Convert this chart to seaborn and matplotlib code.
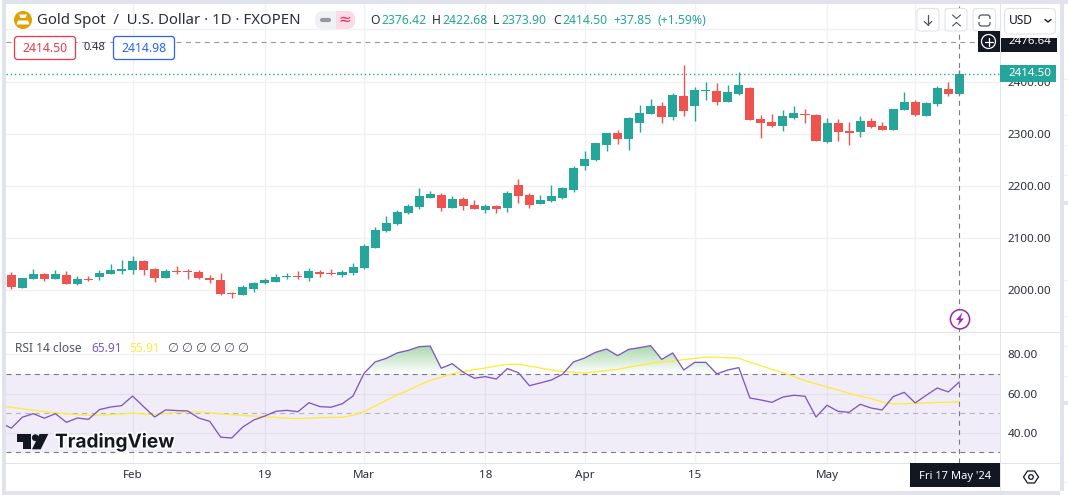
import matplotlib
matplotlib.use("Agg")
import matplotlib.pyplot as plt
import matplotlib.patheffects as pe
from matplotlib.colors import LinearSegmentedColormap
from matplotlib.patches import Circle, FancyBboxPatch, Polygon, Rectangle
from matplotlib.path import Path
import numpy as np
import pandas as pd
import seaborn as sns

# ----------------------------------------------------------------
# Data
# ----------------------------------------------------------------
opens = [2028.7, 2003.7, 2021.0, 2030.6, 2021.0, 2028.7, 2011.0, 2021.0, 2024.9, 2030.6,
         2036.0, 2038.0, 2055.6, 2040.0, 2023.0, 2036.0, 2036.0, 2034.0, 2023.0, 2019.0,
         1994.0, 1990.0, 2001.8, 2013.0, 2015.0, 2024.9, 2026.8, 2023.0, 2034.0, 2032.5,
         2028.7, 2032.5, 2042.8, 2081.2, 2113.8, 2126.5, 2147.6, 2159.2, 2176.4, 2182.2,
         2157.2, 2174.5, 2163.0, 2153.4, 2161.0, 2157.2, 2201.4, 2182.2, 2164.9, 2170.7,
         2176.4, 2191.8, 2237.9, 2249.4, 2278.2, 2301.2, 2289.7, 2320.4, 2337.7, 2353.0,
         2332.0, 2372.2, 2353.0, 2382.4, 2381.8, 2360.7, 2376.0, 2387.5, 2328.0, 2322.0,
         2314.6, 2330.0, 2337.6, 2335.7, 2283.9, 2320.3, 2305.0, 2303.0, 2324.0, 2314.6,
         2306.9, 2345.3, 2360.7, 2333.8, 2356.8, 2385.6, 2376.42]
highs = [2034.0, 2023.0, 2040.0, 2032.5, 2038.0, 2036.0, 2026.8, 2026.8, 2038.0, 2049.8,
         2057.5, 2065.2, 2057.5, 2042.0, 2040.0, 2046.0, 2040.0, 2038.0, 2028.7, 2032.5,
         1996.0, 2009.0, 2015.0, 2023.0, 2030.6, 2032.5, 2036.0, 2042.0, 2038.0, 2040.0,
         2038.0, 2051.7, 2088.3, 2120.9, 2142.0, 2153.4, 2164.9, 2195.6, 2189.9, 2186.0,
         2180.3, 2178.4, 2172.6, 2164.9, 2163.0, 2189.9, 2213.0, 2186.0, 2182.2, 2201.4,
         2197.6, 2237.9, 2266.7, 2282.0, 2301.2, 2307.0, 2332.0, 2355.0, 2366.5, 2360.8,
         2378.0, 2431.7, 2389.5, 2399.0, 2397.0, 2393.3, 2418.3, 2389.5, 2335.7, 2337.6,
         2345.3, 2353.0, 2347.0, 2337.6, 2330.0, 2328.0, 2322.0, 2333.8, 2330.0, 2322.0,
         2347.0, 2379.9, 2364.5, 2360.7, 2391.4, 2399.0, 2422.68]
lows = [2001.8, 2003.7, 2021.0, 2017.0, 2021.0, 2011.0, 2009.0, 2017.0, 2019.0, 2030.6,
        2030.6, 2030.6, 2028.7, 2015.0, 2023.0, 2030.6, 2021.0, 2021.0, 2013.0, 1990.0,
        1984.5, 1990.0, 1996.0, 2011.0, 2015.0, 2021.0, 2021.0, 2017.0, 2024.9, 2028.7,
        2024.9, 2028.7, 2040.0, 2081.2, 2111.9, 2124.6, 2145.7, 2155.3, 2176.4, 2151.5,
        2157.2, 2153.4, 2155.3, 2147.6, 2147.6, 2149.6, 2166.8, 2157.2, 2164.9, 2168.8,
        2174.5, 2188.0, 2230.2, 2247.5, 2266.7, 2280.0, 2268.6, 2303.2, 2337.7, 2320.4,
        2326.2, 2333.8, 2324.0, 2364.5, 2354.9, 2360.7, 2374.0, 2326.0, 2291.5, 2312.7,
        2305.0, 2328.0, 2320.3, 2285.8, 2282.0, 2285.8, 2278.1, 2293.5, 2310.7, 2306.9,
        2306.9, 2345.3, 2333.8, 2333.8, 2353.0, 2372.2, 2373.9]
closes = [2005.7, 2023.0, 2030.6, 2021.0, 2030.6, 2011.0, 2021.0, 2019.0, 2032.5, 2038.0,
          2040.0, 2055.6, 2038.0, 2023.0, 2036.0, 2034.0, 2034.0, 2023.0, 2019.0, 1992.0,
          1992.0, 2005.7, 2013.0, 2019.0, 2024.9, 2026.8, 2024.9, 2036.0, 2030.6, 2030.6,
          2034.0, 2044.0, 2084.4, 2115.1, 2128.6, 2149.6, 2161.0, 2180.3, 2184.0, 2157.2,
          2174.5, 2161.0, 2155.3, 2161.0, 2155.3, 2186.0, 2180.3, 2163.0, 2172.6, 2180.3,
          2195.6, 2234.0, 2251.3, 2282.0, 2301.2, 2289.7, 2330.0, 2339.6, 2353.0, 2332.0,
          2374.2, 2343.4, 2383.7, 2383.7, 2360.7, 2379.9, 2393.3, 2326.0, 2320.3, 2314.6,
          2333.8, 2339.5, 2336.3, 2285.8, 2320.3, 2303.0, 2301.1, 2324.0, 2312.7, 2306.9,
          2347.0, 2360.7, 2335.7, 2358.7, 2387.5, 2376.0, 2414.5]

# RSI and its moving average start one session before the first candle
rsi_values = [45.1, 42.3, 47.9, 49.7, 47.4, 49.7, 45.3, 47.5, 46.8, 51.8, 53.1, 53.8,
              58.7, 53.3, 48.0, 51.6, 51.3, 51.1, 47.5, 45.8, 37.7, 37.3, 42.9, 46.5,
              48.5, 50.9, 51.4, 50.7, 55.3, 53.3, 53.0, 54.7, 58.7, 70.3, 76.1, 77.9,
              80.7, 82.0, 83.9, 84.2, 72.9, 75.2, 70.8, 67.8, 68.6, 67.4, 72.7, 70.6,
              64.0, 65.4, 66.9, 69.8, 76.1, 78.1, 81.0, 82.7, 79.3, 82.5, 83.4, 84.4,
              77.4, 80.7, 72.0, 75.9, 75.9, 70.0, 72.0, 73.2, 57.7, 56.7, 55.5, 58.2,
              59.1, 58.6, 48.0, 54.0, 50.9, 50.4, 54.5, 52.6, 51.6, 58.4, 60.6, 55.2,
              59.1, 62.8, 60.8, 65.91]
rsi_ma = [53.5, 53.0, 52.2, 51.5, 50.8, 50.2, 49.7, 49.2, 48.9, 48.9, 49.2, 49.6,
          49.9, 49.6, 49.2, 49.8, 50.4, 50.6, 50.6, 50.2, 49.6, 49.2, 48.8, 48.5,
          48.2, 47.8, 47.4, 47.2, 47.4, 47.7, 47.8, 47.9, 48.9, 50.7, 53.6, 56.5,
          59.2, 61.6, 64.3, 66.7, 68.3, 70.0, 71.2, 72.2, 73.0, 74.0, 74.9, 74.9,
          74.0, 73.0, 72.0, 71.2, 70.8, 70.5, 71.0, 71.7, 72.3, 73.4, 74.4, 75.4,
          76.1, 76.4, 77.3, 77.9, 78.6, 78.5, 78.3, 78.0, 75.9, 74.2, 72.3, 70.6,
          68.6, 66.6, 64.9, 63.3, 61.8, 60.1, 58.6, 57.4, 55.7, 54.7, 54.8, 55.0,
          55.2, 55.5, 55.5, 55.91]

time_ticks = [11, 23, 32, 43, 52, 62, 74, 82]
time_labels = ["Feb", "19", "Mar", "18", "Apr", "15", "May", ""]
price_ticks = [2000, 2100, 2200, 2300, 2400, 2500]
rsi_ticks = [40, 60, 80]
cross_price = 2476.64

# ----------------------------------------------------------------
# Colours and layout
# ----------------------------------------------------------------
GREEN = "#26a69a"
RED = "#ef5350"
PURPLE = "#7e57c2"
YELLOW = "#ffeb3b"
FRAME = "#e0e3eb"
GRID = "#f0f1f4"
INK = "#131722"
SOFT = "#50535e"
DASH = (0, (4.5, 4))

W, H = 1068, 495


def pane(x0, y0, x1, y1):
    return [x0 / W, 1 - y1 / H, (x1 - x0) / W, (y1 - y0) / H]


sns.set_theme(style="white")
plt.rcParams["font.family"] = ["Noto Sans", "DejaVu Sans"]

fig = plt.figure(figsize=(W / 100, H / 100), dpi=100, facecolor="white")
ax = fig.add_axes(pane(6, 4, 1000, 332))
ax_rsi = fig.add_axes(pane(6, 332, 1000, 463))
ov = fig.add_axes([0, 0, 1, 1], zorder=10)
ov.set_xlim(0, W)
ov.set_ylim(H, 0)
ov.axis("off")
ov.patch.set_alpha(0)

xlim = (-0.481, 89.69)

# --- Price pane ---
days = np.arange(len(closes))
candles = pd.DataFrame({"day": days, "open": opens, "high": highs, "low": lows, "close": closes})
candles["color"] = np.where(candles["close"] >= candles["open"], GREEN, RED)

ax.vlines(candles["day"], candles["low"], candles["high"], colors=candles["color"], lw=1.0, zorder=3)
ax.bar(candles["day"], (candles["close"] - candles["open"]).abs(),
       bottom=candles[["open", "close"]].min(axis=1), width=0.82,
       color=candles["color"], linewidth=0, zorder=4)
ax.axhline(closes[-1], color=GREEN, lw=1.0, ls=(0, (1, 2)), zorder=2)
ax.axhline(cross_price, color="#9598a1", lw=0.8, ls=DASH, zorder=5)
ax.axvline(days[-1], color="#787b86", lw=0.8, ls=DASH, zorder=5)
ax.set_xlim(*xlim)
ax.set_ylim(1919.4, 2548.9)
ax.set_yticks(price_ticks, [f"{t:.2f}" if t < 2500 else "" for t in price_ticks])
ax.set_xticks(time_ticks, [""] * len(time_ticks))

# --- RSI pane ---
rsi_x = np.arange(-1, len(closes))
rsi_df = pd.DataFrame({"day": rsi_x, "rsi": rsi_values, "ma": rsi_ma})

ax_rsi.axhspan(30, 70, color=PURPLE, alpha=0.1, lw=0, zorder=1)
fill = ax_rsi.fill_between(rsi_df["day"], rsi_df["rsi"], 70, where=rsi_df["rsi"] >= 70,
                           interpolate=True, facecolor="none", edgecolor="none")
fade = LinearSegmentedColormap.from_list("fade", ["#ffffff", "#a5d6a7"])
grad = ax_rsi.imshow(np.linspace(0, 1, 64)[::-1, None], extent=[xlim[0], xlim[1], 70, 85],
                     aspect="auto", cmap=fade, zorder=1.5)
grad.set_clip_path(Path.make_compound_path(*fill.get_paths()), ax_rsi.transData)

ax_rsi.axhline(70, color="#787b86", lw=0.8, ls=DASH, zorder=2)
ax_rsi.axhline(50, color="#787b86", lw=0.8, ls=DASH, alpha=0.5, zorder=2)
ax_rsi.axhline(30, color="#787b86", lw=0.8, ls=DASH, zorder=2)
sns.lineplot(data=rsi_df, x="day", y="ma", ax=ax_rsi, color=YELLOW, lw=0.95, zorder=3)
sns.lineplot(data=rsi_df, x="day", y="rsi", ax=ax_rsi, color=PURPLE, lw=0.95, zorder=4)
ax_rsi.axvline(days[-1], color="#787b86", lw=0.8, ls=DASH, zorder=5)
ax_rsi.set(xlabel="", ylabel="")
ax_rsi.set_xlim(*xlim)
ax_rsi.set_ylim(24.54, 91.38)
ax_rsi.set_yticks(rsi_ticks, [f"{t:.2f}" for t in rsi_ticks])
ax_rsi.set_xticks(time_ticks, time_labels)

for a in (ax, ax_rsi):
    a.set_facecolor("white")
    a.yaxis.tick_right()
    a.grid(True, color=GRID, lw=1.0, zorder=0)
    a.set_axisbelow(True)
    a.tick_params(axis="y", length=0, pad=5.6, labelsize=8.4, labelcolor="#2a2e39")
    a.tick_params(axis="x", length=0, pad=5.2, labelsize=8.4, labelcolor="#2a2e39")
    for s in a.spines.values():
        s.set_visible(False)

# ----------------------------------------------------------------
# Chart furniture, in pixel coordinates on the overlay
# ----------------------------------------------------------------
def rect(x0, y0, x1, y1, color, z=1):
    ov.add_patch(Rectangle((x0, y0), x1 - x0, y1 - y0, fc=color, ec="none", zorder=z))


def rbox(x0, y0, x1, y1, fc="white", ec=FRAME, r=4, lw=0.9, z=2):
    ov.add_patch(FancyBboxPatch((x0 + r, y0 + r), x1 - x0 - 2 * r, y1 - y0 - 2 * r,
                                boxstyle=f"round,pad={r},rounding_size={r}",
                                fc=fc, ec=ec, lw=lw, zorder=z))


def label(x, y, s, color=INK, size=8.8, ha="left", z=5, **kw):
    return ov.text(x, y, s, color=color, fontsize=size, ha=ha, va="center", zorder=z, **kw)


def stroke(xs, ys, color, lw=1.0, z=5):
    ov.plot(xs, ys, color=color, lw=lw, zorder=z, solid_capstyle="round")


# page frame
rect(2, 0, 6, H, FRAME)
rect(2, 0, W, 4, FRAME)
rect(6, 491, 1060, H, FRAME)
rect(1060, 4, 1064, 491, FRAME)
rect(1064, 201, W, 205, FRAME)
rect(1064, 401, W, 405, FRAME)
for yy in [79, 115, 145, 175, 280, 316, 346, 376, 482]:
    rect(1064, yy, W, yy + 1, GRID)

# pane separators
rect(6, 331.5, 1060, 332.5, FRAME)
rect(6, 462.5, 1060, 463.5, FRAME)
rect(1000, 4, 1001, 491, FRAME)

# crosshair tail under the RSI pane
ov.plot([959.4, 959.4], [463, 477], color="#787b86", lw=0.8, ls=DASH, zorder=2)

# symbol header
ov.add_patch(Circle((23, 20), 9, fc="#e0a100", ec="none", zorder=3))
ov.add_patch(Polygon([(20.5, 18), (25.5, 18), (27, 14.5), (19, 14.5)], fc="white", ec="none", zorder=4))
ov.add_patch(Polygon([(16.5, 24.5), (29.5, 24.5), (28, 20.5), (18, 20.5)], fc="white", ec="none", zorder=4))
label(37, 20, "Gold Spot  /  U.S. Dollar · 1D · FXOPEN", color="#2a2e39", size=10.75)

rbox(315, 11, 355, 29, fc=GRID, ec="none", r=8)
rbox(336, 11, 355, 29, fc="#fcdbe4", ec="none", r=8, z=3)
rect(335.5, 11, 346, 29, "#fcdbe4", z=3)
stroke([322, 329], [20, 20], "#9598a1", lw=3)
label(344.5, 20, "≈", color="#e91e63", size=11, ha="center")

label(370.5, 20.5, "O", color="#2a2e39")
label(381, 20.5, "2376.42", color=GREEN)
label(432, 20.5, "H", color="#2a2e39")
label(442, 20.5, "2422.68", color=GREEN)
label(493, 20.5, "L", color="#2a2e39")
label(501, 20.5, "2373.90", color=GREEN)
label(553, 20.5, "C", color="#2a2e39")
label(562, 20.5, "2414.50", color=GREEN)
label(613, 20.5, "+37.85", color=GREEN)
label(657, 20.5, "(+1.59%)", color=GREEN)

# bid / ask boxes
rbox(14.5, 36.5, 75.5, 59.5, fc="white", ec="#f23645", r=3, lw=0.9, z=6)
label(45, 48.5, "2414.50", color="#f23645", ha="center", z=7)
label(94.5, 48, "0.48", color="#2a2e39", ha="center", size=8)
rbox(113.5, 36.5, 174.5, 59.5, fc="white", ec="#2962ff", r=3, lw=0.9, z=6)
label(144, 48.5, "2414.98", color="#2962ff", ha="center", z=7)

# top right buttons
rbox(917, 8.5, 939, 31, r=4, lw=0.8)
stroke([928, 928], [14.5, 25], SOFT, lw=0.9)
stroke([924.3, 928, 931.7], [21.5, 25, 21.5], SOFT, lw=0.9)
rbox(945, 8.5, 967, 31, r=4, lw=0.8)
stroke([952.5, 956.5, 960.5], [15, 18.5, 15], SOFT, lw=0.8)
stroke([952.5, 956.5, 960.5], [26, 22.5, 26], SOFT, lw=0.8)
rbox(973, 8.5, 995.5, 31, r=4, lw=0.8)
rbox(979, 15, 990, 26, fc="none", ec=SOFT, r=2.5, lw=0.9)
rect(977, 19, 992, 22, "white", z=3)
rbox(1004.5, 8.5, 1055.5, 34, r=5, lw=0.8)
label(1008.5, 20.5, "USD", color=INK, size=8.6)
stroke([1045, 1048, 1051], [19.5, 22, 19.5], INK, lw=1.0)

# crosshair price tag and plus button
rect(978, 31, 1000, 52, INK, z=4)
ov.add_patch(Circle((988.5, 41.5), 7, fc="none", ec="white", lw=0.9, zorder=5))
stroke([984.5, 992.5], [41.5, 41.5], "white", lw=0.9, z=6)
stroke([988.5, 988.5], [37.5, 45.5], "white", lw=0.9, z=6)
rect(1001, 38, 1057, 52, INK, z=4)
label(1008, 42, "2476.64", color="white", size=8.3, z=5, fontweight="bold")
rect(1001, 34.5, 1060, 38, "white", z=6)

# last price tag
rect(1000, 65, 1056, 82, GREEN, z=4)
label(1008, 73.5, "2414.50", color="white", size=8.3, fontweight="bold")

# alert icon
ov.add_patch(Circle((960, 319.3), 9.6, fc="white", ec="#9c27b0", lw=1.1, zorder=6))
ov.add_patch(Polygon([(962.5, 312.5), (956, 320), (959.5, 320), (957.5, 326), (964, 318.5), (960.5, 318.5)],
                     fc="#9c27b0", ec="none", zorder=7))

# RSI legend
label(15, 349, "RSI 14 close", color=SOFT, size=8.6)
label(91.5, 349, "65.91", color=PURPLE, size=8.6)
label(129.5, 349, "55.91", color=YELLOW, size=8.6)
for xx in [172, 186, 200, 214, 228, 242]:
    label(xx, 349, "∅", color=SOFT, size=9, ha="center")

# TradingView logo
halo = [pe.withStroke(linewidth=2.5, foreground="white")]
ov.add_patch(Polygon([(17.3, 434), (30.7, 434), (30.7, 449.3), (23.3, 449.3), (23.3, 441.7), (17.3, 441.7)],
                     fc=INK, ec="none", zorder=5))
ov.add_patch(Circle((35.3, 437.7), 3.4, fc=INK, ec="none", zorder=5))
ov.add_patch(Polygon([(39.5, 434), (48.3, 434), (40.7, 449.3), (32, 449.3)], fc=INK, ec="none", zorder=5))
label(55, 442, "TradingView", color=INK, size=13.7, fontweight="bold", path_effects=halo,
      family=["Inter", "DejaVu Sans"])

# date tag and settings icon
rect(910, 463, 1000, 487, INK, z=4)
label(955, 477, "Fri 17 May '24", color="white", size=8.0, ha="center", fontweight="bold")
ov.add_patch(Polygon([(1023.5, 477), (1027.5, 471), (1034.5, 471), (1038.5, 477), (1034.5, 483), (1027.5, 483)],
                     fc="none", ec=INK, lw=0.9, zorder=5))
ov.add_patch(Circle((1031, 477), 2.3, fc="none", ec=INK, lw=0.9, zorder=5))

fig.savefig("out.png", dpi=100)
plt.close(fig)
